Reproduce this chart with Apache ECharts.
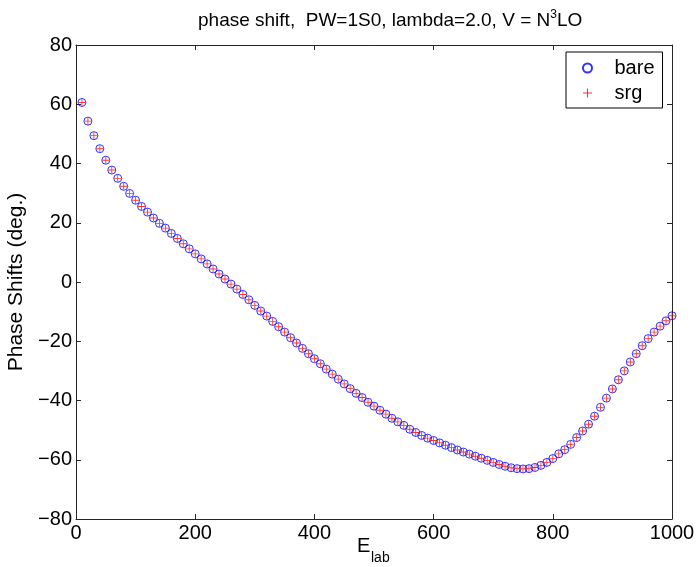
<!DOCTYPE html>
<html>
<head>
<meta charset="utf-8">
<script src="https://cdn.jsdelivr.net/npm/echarts@6/dist/echarts.min.js"></script>
<style>
html,body{margin:0;padding:0;background:#fff;}
#chart{width:698px;height:567px;}
</style>
</head>
<body>
<div id="chart"></div>
<script>
// Energies (MeV)
const energies = [10,20,30,40,50,60,70,80,90,100,110,120,130,140,150,160,170,180,190,200,
  210,220,230,240,250,260,270,280,290,300,310,320,330,340,350,360,370,380,390,400,
  410,420,430,440,450,460,470,480,490,500,510,520,530,540,550,560,570,580,590,600,
  610,620,630,640,650,660,670,680,690,700,710,720,730,740,750,760,770,780,790,800,
  810,820,830,840,850,860,870,880,890,900,910,920,930,940,950,960,970,980,990,1000];
// bare phase shifts (deg.)
const bare = [60.6,54.3,49.4,45.0,41.1,37.8,35.0,32.3,29.9,27.6,25.5,23.6,21.6,19.8,18.2,16.4,14.7,12.9,11.2,9.5,
  7.8,6.1,4.4,2.7,1.0,-0.7,-2.4,-4.2,-6.0,-7.9,-9.8,-11.5,-13.3,-15.1,-16.9,-18.8,-20.6,-22.4,-24.2,-25.9,
  -27.6,-29.4,-31.1,-32.8,-34.4,-36.0,-37.6,-39.0,-40.6,-41.9,-43.3,-44.6,-46.0,-47.2,-48.4,-49.7,-50.8,-51.8,-52.7,-53.5,
  -54.3,-55.1,-55.9,-56.7,-57.4,-58.1,-58.8,-59.5,-60.2,-60.9,-61.6,-62.2,-62.7,-63.0,-63.1,-63.0,-62.6,-61.9,-60.9,-59.6,
  -58.0,-56.6,-54.8,-52.5,-50.3,-48.0,-45.3,-42.3,-39.2,-36.1,-33.0,-30.0,-27.0,-24.2,-21.5,-19.1,-16.9,-14.9,-13.1,-11.4];
// srg phase shifts (deg.)
const srg = [60.6,54.3,49.4,45.0,41.1,37.8,35.0,32.3,29.9,27.6,25.5,23.6,21.6,19.8,18.2,16.4,14.7,12.9,11.2,9.5,
  7.8,6.1,4.4,2.7,1.0,-0.7,-2.4,-4.2,-6.0,-7.9,-9.8,-11.5,-13.3,-15.1,-16.9,-18.8,-20.6,-22.4,-24.2,-25.9,
  -27.6,-29.4,-31.1,-32.8,-34.4,-36.0,-37.6,-39.0,-40.6,-41.9,-43.3,-44.6,-46.0,-47.2,-48.4,-49.7,-50.8,-51.8,-52.7,-53.5,
  -54.3,-55.1,-55.9,-56.7,-57.4,-58.1,-58.8,-59.5,-60.2,-60.9,-61.6,-62.2,-62.7,-63.0,-63.1,-63.0,-62.6,-61.9,-60.9,-59.6,
  -58.0,-56.6,-54.8,-52.5,-50.3,-48.0,-45.3,-42.3,-39.2,-36.1,-33.0,-30.0,-27.0,-24.2,-21.5,-19.1,-16.9,-14.9,-13.1,-11.4];
const seriesNames = ['bare','srg'];
const titleText = 'phase shift,  PW=1S0, lambda=2.0, V = N{s|3}LO';
const yName = 'Phase Shifts (deg.)';

const FONT = 'Liberation Sans, Arial, Helvetica, sans-serif';
const axisCol = '#262626';
const minusFmt = v => String(v).replace('-', '\u2212');

const chart = echarts.init(document.getElementById('chart'), null, {renderer:'canvas'});
const tickStyle = {show:true, inside:true, length:5, lineStyle:{color:axisCol,width:1}};
const lineStyle = {show:true, onZero:false, lineStyle:{color:axisCol,width:1}};
const option = {
  backgroundColor:'#fff',
  animation:false,
  title:{
    text:titleText, left:193, top:4,
    textStyle:{fontFamily:FONT, fontSize:19, fontWeight:'normal', color:'#000', lineHeight:24,
      rich:{s:{fontFamily:FONT, fontSize:12, verticalAlign:'top', lineHeight:14, color:'#000'}}}
  },
  grid:{left:76, right:26, top:45, bottom:48, containLabel:false, outerBoundsMode:'none'},
  legend:{
    orient:'vertical', left:566, top:52,
    padding:[6,8,5,16], itemGap:5, itemWidth:24, itemHeight:9,
    borderColor:'#000', borderWidth:1, backgroundColor:'#fff',
    textStyle:{fontFamily:FONT, fontSize:20, color:'#000', padding:[0,0,0,10]},
    data:seriesNames
  },
  xAxis:[
    {type:'value', min:0, max:1000, interval:200, axisLine:lineStyle, axisTick:tickStyle,
     splitLine:{show:false}, axisLabel:{fontFamily:FONT, fontSize:20, color:'#000', margin:4, formatter:v=>String(v)}},
    {type:'value', position:'top', min:0, max:1000, interval:200, axisLine:lineStyle, axisTick:tickStyle,
     splitLine:{show:false}, axisLabel:{show:false}}
  ],
  yAxis:[
    {type:'value', min:-80, max:80, interval:20, axisLine:lineStyle, axisTick:tickStyle,
     splitLine:{show:false}, axisLabel:{fontFamily:FONT, fontSize:20, color:'#000', margin:4, formatter:minusFmt},
     name:yName, nameLocation:'middle', nameRotate:90, nameGap:42,
     nameTextStyle:{fontFamily:FONT, fontSize:21, color:'#000'}},
    {type:'value', position:'right', min:-80, max:80, interval:20, axisLine:lineStyle, axisTick:tickStyle,
     splitLine:{show:false}, axisLabel:{show:false}}
  ],
  graphic:[
    {type:'text', left:357, top:536, style:{text:'E', fontFamily:FONT, fontSize:20, fill:'#000'}},
    {type:'text', left:371, top:551, style:{text:'lab', fontFamily:FONT, fontSize:14, fill:'#000'}}
  ],
  series:[
    {name:seriesNames[0], type:'scatter', xAxisIndex:0, yAxisIndex:0,
     data:energies.map((e,i)=>[e,bare[i]]),
     symbol:'circle', symbolSize:8,
     itemStyle:{color:'rgba(0,0,0,0)', borderColor:'#0000ff', borderWidth:1}},
    {name:seriesNames[1], type:'scatter', xAxisIndex:0, yAxisIndex:0,
     data:energies.map((e,i)=>[e,srg[i]]),
     symbol:'path://M0,3.5h8v1h-8z M3.5,0h1v8h-1z', symbolSize:7,
     itemStyle:{color:'#ff0000'}}
  ]
};
chart.setOption(option);
</script>
</body>
</html>
